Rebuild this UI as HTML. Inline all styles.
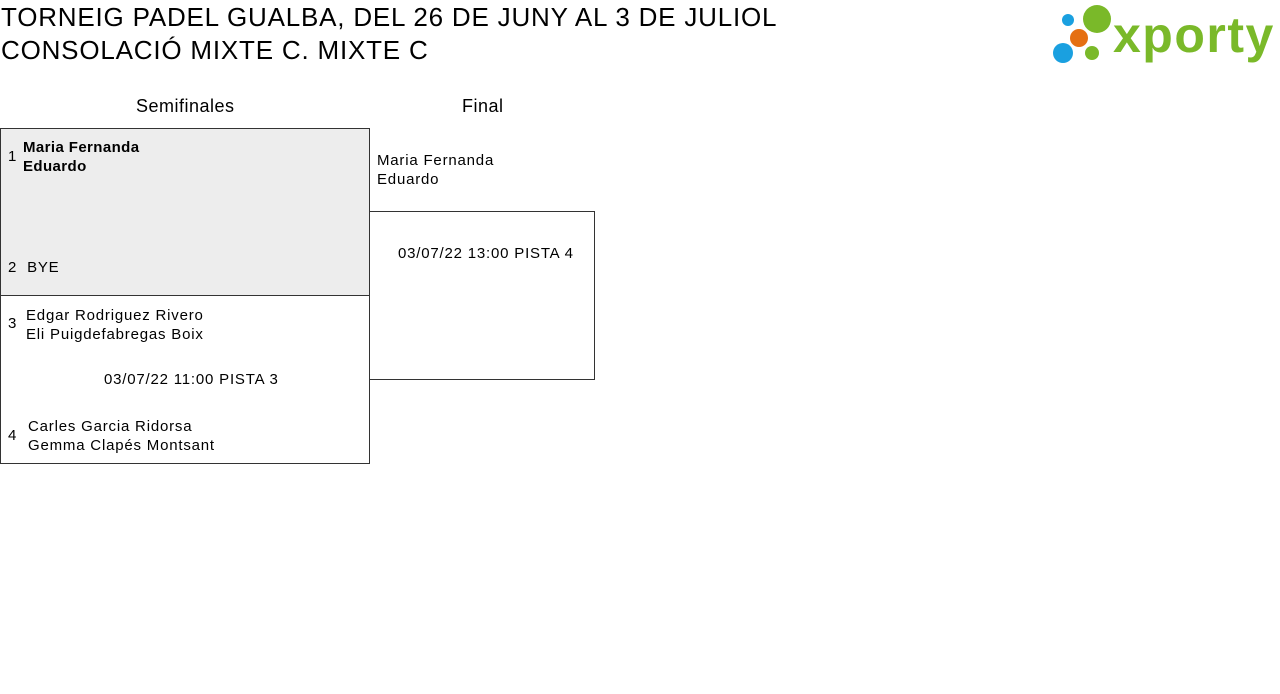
<!DOCTYPE html>
<html><head><meta charset="utf-8"><style>
body{margin:0;width:1280px;height:694px;background:#fff;font-family:"Liberation Sans",sans-serif;color:#000;position:relative;overflow:hidden}
.a{position:absolute;white-space:nowrap}
.t{font-size:26px;left:1px;letter-spacing:0.8px}
.box{position:absolute;border:1px solid #333;box-sizing:border-box}
.f{font-size:15px;letter-spacing:0.8px}
.h{font-size:18px;letter-spacing:0.5px}
</style></head><body>
<div class="a t" style="top:2px">TORNEIG PADEL GUALBA, DEL 26 DE JUNY AL 3 DE JULIOL</div>
<div class="a t" style="top:35px">CONSOLACIÓ MIXTE C. MIXTE C</div>
<svg class="a" style="left:1050px;top:3px" width="230" height="64">
<circle cx="18" cy="17" r="6" fill="#1aa0e0"/>
<circle cx="47" cy="16" r="14" fill="#7ab929"/>
<circle cx="29" cy="35" r="9" fill="#e57012"/>
<circle cx="13" cy="50" r="10" fill="#1aa0e0"/>
<circle cx="42" cy="50" r="7" fill="#7ab929"/>
<text x="63" y="49" font-family="Liberation Sans" font-weight="bold" font-size="50" letter-spacing="1.5" fill="#7ab929">xporty</text>
</svg>
<div class="a h" style="left:136px;top:96px">Semifinales</div>
<div class="a h" style="left:462px;top:96px">Final</div>
<div class="box" style="left:0;top:128px;width:370px;height:168px;background:#ededed"></div>
<div class="box" style="left:0;top:295px;width:370px;height:169px"></div>
<div class="box" style="left:369px;top:211px;width:226px;height:169px"></div>
<div class="a f" style="left:8px;top:148px">1</div>
<div class="a f" style="left:23px;top:138px;font-weight:bold;line-height:19px;letter-spacing:0.4px">Maria Fernanda<br>Eduardo</div>
<div class="a f" style="left:8px;top:259px">2&nbsp;&nbsp;BYE</div>
<div class="a f" style="left:8px;top:315px">3</div>
<div class="a f" style="left:26px;top:306px;line-height:19px">Edgar Rodriguez Rivero<br>Eli Puigdefabregas Boix</div>
<div class="a f" style="left:104px;top:371px">03/07/22 11:00 PISTA 3</div>
<div class="a f" style="left:8px;top:427px">4</div>
<div class="a f" style="left:28px;top:417px;line-height:19px">Carles Garcia Ridorsa<br>Gemma Clapés Montsant</div>
<div class="a f" style="left:377px;top:151px;line-height:19px">Maria Fernanda<br>Eduardo</div>
<div class="a f" style="left:398px;top:245px">03/07/22 13:00 PISTA 4</div>
</body></html>
